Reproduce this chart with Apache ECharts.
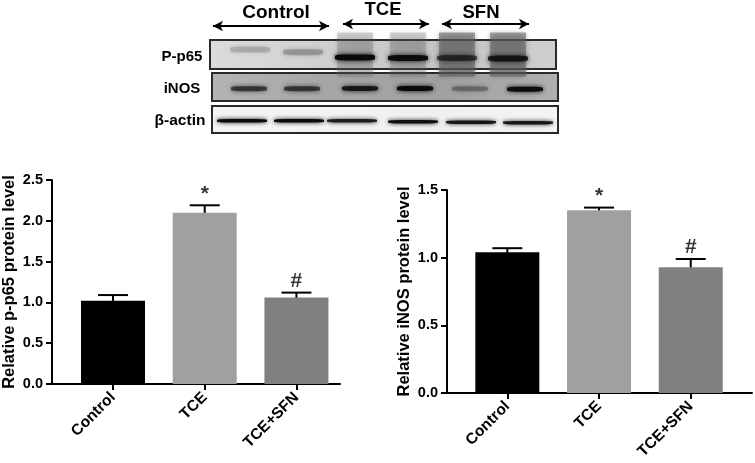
<!DOCTYPE html>
<html>
<head>
<meta charset="utf-8">
<script src="https://cdn.jsdelivr.net/npm/echarts@6/dist/echarts.min.js"></script>
<style>
html,body{margin:0;padding:0;background:#fff;}
#chart{width:755px;height:463px;}
</style>
</head>
<body>
<div id="chart"></div>
<script>
var categories = ['Control', 'TCE', 'TCE+SFN'];
var barColors = ['#000000', '#a0a0a0', '#808080'];
var marks = ['', '*', '#'];

var p65Values = [1.02, 2.10, 1.06];
var p65ErrTop = [1.09, 2.19, 1.12];
var inosValues = [1.04, 1.35, 0.93];
var inosErrTop = [1.07, 1.37, 0.99];

// blot bands, lane position along the panel and darkness 0-1
var p65Lanes = [40, 93, 145, 198, 247, 298];
var p65Rows = [0.33, 0.42, 0.60, 0.62, 0.62, 0.64];
var p65Dark = [0.14, 0.2, 1, 0.95, 0.6, 0.8];
var p65SmearLanes = [145, 198, 247, 298];
var p65SmearDark = [0.22, 0.22, 0.5, 0.5];
var inosLanes = [37, 90, 148, 203, 258, 313];
var inosRows = [0.56, 0.56, 0.55, 0.55, 0.56, 0.58];
var inosDark = [0.6, 0.6, 0.85, 1, 0.28, 0.95];
var actinLanes = [30, 87, 140, 201, 259, 316];
var actinRows = [0.55, 0.55, 0.55, 0.58, 0.60, 0.62];
var actinDark = [1, 1, 0.85, 0.95, 0.9, 0.9];

var font = '"Liberation Sans", Arial, sans-serif';

function barGrid(g, yName, maxY, step, xMin, xMax, nameGap) {
	return {
		xAxis: {
			type: 'value', gridIndex: g, min: xMin, max: xMax,
			splitLine: {show: false},
			axisLine: {lineStyle: {color: '#000', width: 2}},
			axisTick: {customValues: [0, 1, 2], length: 6, lineStyle: {color: '#000', width: 2}},
			axisLabel: {
				customValues: [0, 1, 2], rotate: 45, margin: 11,
				fontFamily: font, fontWeight: 'bold', fontSize: 15.5, color: '#000',
				formatter: function (v) { return categories[v]; }
			}
		},
		yAxis: {
			type: 'value', gridIndex: g, min: 0, max: maxY, interval: step,
			name: yName, nameLocation: 'middle', nameGap: nameGap, nameRotate: 90,
			nameTextStyle: {fontFamily: font, fontWeight: 'bold', fontSize: 16.5, color: '#000'},
			splitLine: {show: false},
			axisLine: {show: true, onZero: false, lineStyle: {color: '#000', width: 2}},
			axisTick: {show: true, length: 6, lineStyle: {color: '#000', width: 2}},
			axisLabel: {
				margin: 9, fontFamily: font, fontWeight: 'bold', fontSize: 14.5, color: '#000',
				formatter: function (v) { return v.toFixed(1); }
			}
		}
	};
}

function barSeries(g, values, errTop) {
	return [{
		type: 'bar', xAxisIndex: g, yAxisIndex: g, barWidth: 64, silent: true,
		data: values.map(function (v, i) {
			return {value: [i, v], itemStyle: {color: barColors[i]}};
		})
	}, {
		// error bars, upper arm only
		type: 'custom', xAxisIndex: g, yAxisIndex: g, silent: true,
		data: errTop.map(function (v, i) { return [i, v, values[i]]; }),
		renderItem: function (params, api) {
			var top = api.coord([api.value(0), api.value(1)]);
			var bottom = api.coord([api.value(0), api.value(2)]);
			return {
				type: 'group',
				children: [{
					type: 'line',
					shape: {x1: top[0] - 15, y1: top[1], x2: top[0] + 15, y2: top[1]},
					style: {stroke: '#000', lineWidth: 2}
				}, {
					type: 'line',
					shape: {x1: top[0], y1: top[1], x2: top[0], y2: bottom[1] + 1},
					style: {stroke: '#000', lineWidth: 2}
				}]
			};
		}
	}, {
		type: 'scatter', xAxisIndex: g, yAxisIndex: g, symbolSize: 0, silent: true,
		data: errTop.map(function (v, i) { return [i, v]; }),
		label: {
			show: true, position: 'top', distance: 1, color: '#000',
			fontFamily: font, fontWeight: 'bold', fontSize: 21,
			formatter: function (p) { return marks[p.dataIndex]; }
		}
	}];
}

function blotGrid(g) {
	return {
		xAxis: {type: 'value', gridIndex: g, min: 0, max: 346, show: false},
		yAxis: {type: 'value', gridIndex: g, min: 0, max: 1, inverse: true, show: false}
	};
}

function bandSeries(g, lanes, rows, dark, w, h, blur) {
	return {
		type: 'scatter', xAxisIndex: g, yAxisIndex: g, symbol: 'roundRect', symbolSize: [w, h], silent: true, clip: true,
		itemStyle: {color: '#0a0a0a', shadowBlur: blur, shadowColor: '#0a0a0a'},
		data: lanes.map(function (x, i) {
			return {value: [x, rows[i]], itemStyle: {opacity: dark[i]}};
		})
	};
}

var panels = [
	{left: 210, top: 40, width: 346, height: 29, bg: ['#dcdcdc', '#d0d0d0', '#c4c4c4', '#cfcfcf']},
	{left: 212, top: 73, width: 346, height: 28, bg: ['#b4b4b4', '#a6a6a6', '#a0a0a0', '#b0b0b0']},
	{left: 212, top: 106, width: 346, height: 27, bg: ['#f4f4f4', '#f2f2f2', '#f0f0f0', '#f4f4f4']}
];

var left = barGrid(0, 'Relative p-p65 protein level', 2.5, 0.5, -0.665, 2.475, 34);
var right = barGrid(1, 'Relative iNOS protein level', 1.5, 0.5, -0.658, 2.668, 34);
var blots = [blotGrid(2), blotGrid(3), blotGrid(4)];

function topText(text, x, y, size) {
	return {type: 'text', x: x, y: y, style: {text: text, font: 'bold ' + size + 'px ' + font, fill: '#000', textAlign: 'center', textVerticalAlign: 'middle'}};
}

var option = {
	animation: false,
	backgroundColor: '#fff',
	grid: [
		{left: 52, top: 180, width: 288, height: 204},
		{left: 447, top: 190, width: 305, height: 203}
	].concat(panels.map(function (p) {
		return {
			show: true, left: p.left, top: p.top, width: p.width, height: p.height,
			borderColor: '#2a2a2a', borderWidth: 2,
			backgroundColor: {
				type: 'linear', x: 0, y: 0, x2: 1, y2: 0,
				colorStops: p.bg.map(function (c, i) { return {offset: i / 3, color: c}; })
			}
		};
	})),
	xAxis: [left.xAxis, right.xAxis, blots[0].xAxis, blots[1].xAxis, blots[2].xAxis],
	yAxis: [left.yAxis, right.yAxis, blots[0].yAxis, blots[1].yAxis, blots[2].yAxis],
	series: barSeries(0, p65Values, p65ErrTop).concat(barSeries(1, inosValues, inosErrTop), [
		{
			// darker lane smear behind the p-p65 bands
			type: 'scatter', xAxisIndex: 2, yAxisIndex: 2, symbol: 'rect', symbolSize: [36, 44], silent: true, clip: true,
			itemStyle: {color: '#555', shadowBlur: 5, shadowColor: '#555'},
			data: p65SmearLanes.map(function (x, i) {
				return {value: [x, 0.5], itemStyle: {opacity: p65SmearDark[i]}};
			})
		},
		bandSeries(2, p65Lanes, p65Rows, p65Dark, 40, 6, 5),
		bandSeries(3, inosLanes, inosRows, inosDark, 36, 5, 5),
		bandSeries(4, actinLanes, actinRows, actinDark, 50, 3.5, 4),
		{
			// group arrows above the blot
			type: 'line', xAxisIndex: 2, yAxisIndex: 2, data: [], silent: true,
			markLine: {
				silent: true, animation: false, symbol: ['arrow', 'arrow'], symbolSize: [8, 10],
				lineStyle: {color: '#000', width: 2, type: 'solid'},
				label: {show: false},
				data: [
					[{x: 213, y: 26}, {x: 329, y: 26}],
					[{x: 343, y: 24}, {x: 429, y: 24}],
					[{x: 442, y: 24}, {x: 529, y: 24}]
				]
			}
		}
	]),
	graphic: [
		topText('Control', 276, 13, 19),
		topText('TCE', 383, 10, 18.5),
		topText('SFN', 481, 13, 18.5),
		topText('P-p65', 182, 57, 15),
		topText('iNOS', 182, 89, 15),
		topText('β-actin', 180, 121, 15.5)
	]
};

var chart = echarts.init(document.getElementById('chart'), null, {renderer: 'canvas'});
chart.setOption(option);
</script>
</body>
</html>
